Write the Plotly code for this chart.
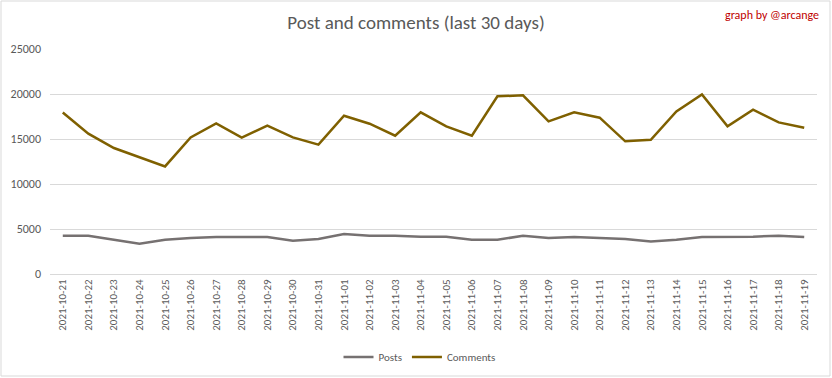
import plotly.graph_objects as go

dates = ["2021-10-21","2021-10-22","2021-10-23","2021-10-24","2021-10-25","2021-10-26","2021-10-27",
         "2021-10-28","2021-10-29","2021-10-30","2021-10-31","2021-11-01","2021-11-02","2021-11-03",
         "2021-11-04","2021-11-05","2021-11-06","2021-11-07","2021-11-08","2021-11-09","2021-11-10",
         "2021-11-11","2021-11-12","2021-11-13","2021-11-14","2021-11-15","2021-11-16","2021-11-17",
         "2021-11-18","2021-11-19"]
posts = [4250, 4250, 3800, 3350, 3800, 4000, 4100, 4100, 4100, 3700, 3900, 4450, 4250, 4250, 4150,
         4150, 3800, 3800, 4250, 4000, 4100, 4000, 3900, 3600, 3800, 4100, 4100, 4150, 4250, 4100]
comments = [17950, 15600, 14000, 12950, 11950, 15180, 16740, 15150, 16480, 15180, 14370, 17590, 16700,
            15370, 17960, 16400, 15370, 19740, 19850, 16960, 17960, 17370, 14740, 14920, 18070, 19960,
            16400, 18260, 16850, 16260]
y_ticks = [0, 5000, 10000, 15000, 20000, 25000]
y_tick_labels = ["0", "5000", "10000", "15000", "20000", "25000"]

FONT = "Calibri, Carlito, 'Liberation Sans Narrow', 'Open Sans', sans-serif"

fig = go.Figure()
fig.add_trace(go.Scatter(x=dates, y=posts, name="Posts", mode="lines",
                         line=dict(color="#767171", width=2.5)))
fig.add_trace(go.Scatter(x=dates, y=comments, name="Comments", mode="lines",
                         line=dict(color="#7F6000", width=2.5)))

L, R, T, B = 50, 15, 49, 104
W, H = 832, 378
pw, ph = W - L - R, H - T - B

fig.update_layout(
    width=W, height=H,
    margin=dict(l=L, r=R, t=T, b=B, autoexpand=False),
    paper_bgcolor="white", plot_bgcolor="white",
    font=dict(family=FONT, color="#595959", size=12),
    title=dict(text="Post and comments (last 30 days)", x=0.5, xanchor="center",
               y=1 - 22 / H, yanchor="middle", font=dict(size=19, color="#595959")),
    showlegend=True,
    legend=dict(orientation="h", x=0.5 - 14 / pw, xanchor="center", y=(274 - 357) / ph,
                yanchor="middle", font=dict(size=11, color="#595959"), itemwidth=30),
    xaxis=dict(type="category", range=[-0.5, 29.5], tickangle=-90, showgrid=False,
               showline=True, linecolor="#d9d9d9", linewidth=1, ticks="", automargin=False,
               tickfont=dict(size=11, color="#595959")),
    yaxis=dict(range=[0, 25000], tickvals=y_ticks, ticktext=y_tick_labels, showgrid=True,
               gridcolor="#d9d9d9", gridwidth=1, zeroline=False, showline=False, ticks="",
               automargin=False, ticklabelstandoff=8, tickfont=dict(size=12, color="#595959")),
    annotations=[dict(text="graph by @arcange", xref="paper", yref="paper",
                      x=(821 - L) / pw, y=(274 - 15) / ph, xanchor="right", yanchor="middle",
                      showarrow=False, font=dict(size=12, color="#C00000"))],
    shapes=[dict(type="rect", xref="paper", yref="paper",
                 x0=(1 - L) / pw, x1=(830 - L) / pw, y0=(274 - 376) / ph, y1=(274 - 1) / ph,
                 line=dict(color="#d9d9d9", width=1), fillcolor="rgba(0,0,0,0)", layer="below")],
)

fig.write_html("out.html", config={"displayModeBar": False},
               post_script="document.body.style.margin='0';document.body.style.overflow='hidden';")
